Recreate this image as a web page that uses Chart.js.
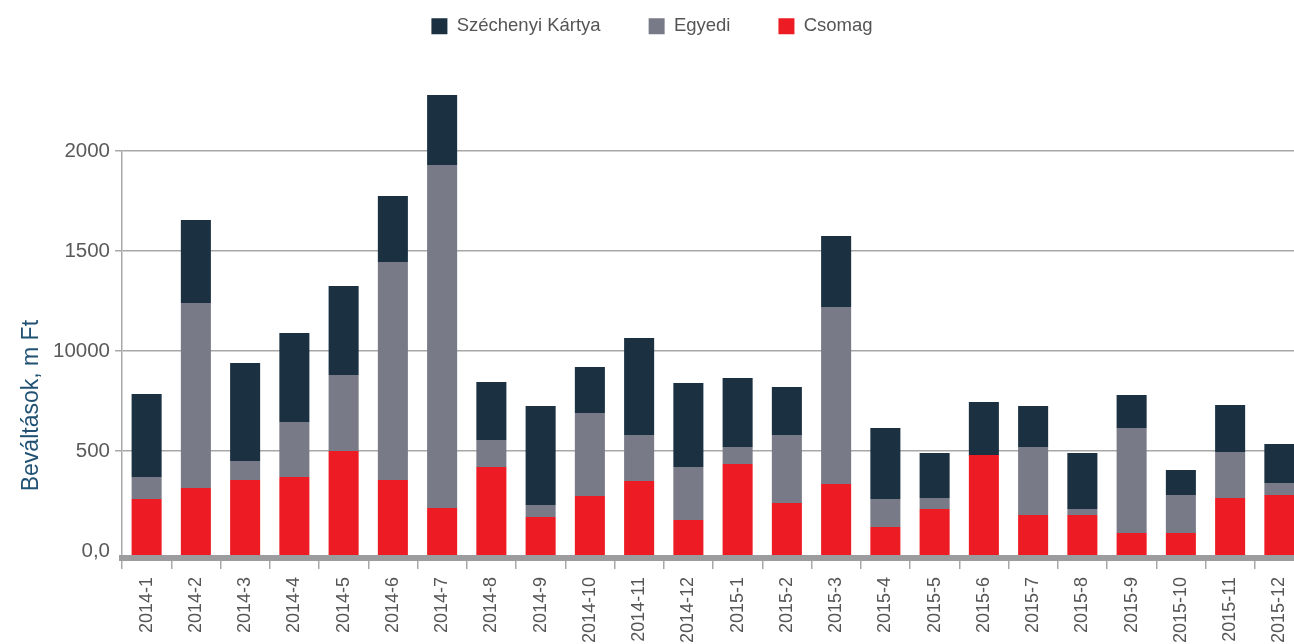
<!DOCTYPE html>
<html>
<head>
<meta charset="utf-8">
<script src="https://cdn.jsdelivr.net/npm/chart.js@4"></script>
<style>
  html, body { margin: 0; padding: 0; background: #fff; overflow: hidden; }
  /* plot runs past the right edge of the window, as in the original */
  #wrap { width: 1304px; height: 644px; position: relative; }
</style>
</head>
<body>
<div id="wrap"><canvas id="chart"></canvas></div>
<script>
// DATA
const months = ["2014-1", "2014-2", "2014-3", "2014-4", "2014-5", "2014-6", "2014-7", "2014-8",
  "2014-9", "2014-10", "2014-11", "2014-12", "2015-1", "2015-2", "2015-3", "2015-4",
  "2015-5", "2015-6", "2015-7", "2015-8", "2015-9", "2015-10", "2015-11", "2015-12"];
const csomag = [260, 315, 355, 370, 500, 355, 215, 420, 170, 275, 350, 155,
  435, 240, 335, 120, 210, 480, 180, 180, 90, 90, 265, 280];
const egyedi = [110, 925, 95, 275, 380, 1090, 1715, 135, 60, 415, 230, 265,
  85, 340, 885, 140, 55, 0, 340, 30, 525, 190, 230, 60];
const szechenyi = [415, 415, 490, 445, 445, 330, 350, 290, 495, 230, 485, 420,
  345, 240, 355, 355, 225, 265, 205, 280, 165, 125, 235, 195];
const yTickValues = [0, 500, 1000, 1500, 2000];
const yTickLabels = ["0,0", "500", "10000", "1500", "2000"];

Chart.defaults.font.family = "'Liberation Sans', Arial, sans-serif";
Chart.defaults.color = "#555";

const ctx = document.getElementById("chart").getContext("2d");

const chart = new Chart(ctx, {
  type: "bar",
  data: {
    labels: months,
    datasets: [
      { label: "Csomag", data: csomag, backgroundColor: "#ed1c24", base: -35 },
      { label: "Egyedi", data: egyedi, backgroundColor: "#787b87" },
      { label: "Széchenyi Kártya", data: szechenyi, backgroundColor: "#1b3142" },
    ],
  },
  options: {
    responsive: true,
    maintainAspectRatio: false,
    animation: false,
    datasets: {
      bar: { categoryPercentage: 1, barPercentage: 0.61, clip: false, borderWidth: 0 },
    },
    layout: { padding: { top: -31, right: 0, bottom: 0, left: 0 } },
    plugins: {
      legend: {
        position: "top",
        reverse: true,
        labels: { boxWidth: 16, boxHeight: 16, padding: 48, color: "#555", font: { size: 18.5 } },
      },
      // empty title used as a spacer below the legend
      title: { display: true, text: "", weight: 500, font: { size: 10 }, padding: { top: 0, bottom: 93.5 } },
      tooltip: { enabled: false },
    },
    scales: {
      x: {
        stacked: true,
        afterFit: (axis) => {
          axis.height = 86;
          axis.paddingLeft = 0;
          axis.paddingRight = 0;
        },
        grid: { offset: true, drawOnChartArea: false, tickLength: 11, color: "#a8a8a8", lineWidth: 1.5 },
        border: { color: "#9c9c9e", width: 6, z: 1 },
        ticks: { autoSkip: false, maxRotation: 90, minRotation: 90, padding: 8, color: "#555", font: { size: 18 } },
      },
      y: {
        stacked: true,
        min: -35,
        max: 2000,
        afterFit: (axis) => { axis.width = 122; },
        afterBuildTicks: (axis) => { axis.ticks = yTickValues.map((v) => ({ value: v })); },
        grid: {
          tickLength: 7,
          lineWidth: 1.5,
          color: (c) => (c.tick && c.tick.value === 0 ? "rgba(0,0,0,0)" : "#a8a8a8"),
        },
        border: { color: "#a8a8a8", width: 1.5 },
        ticks: {
          padding: 5,
          color: "#5a5a5a",
          font: { size: 20.5 },
          callback: (value, index) => yTickLabels[index],
        },
        title: {
          display: true,
          text: "Beváltások, m Ft" + "\u00a0".repeat(16),
          color: "#215274",
          font: { size: 23 },
          padding: { top: 18, bottom: 0 },
        },
      },
    },
  },
});
</script>
</body>
</html>
